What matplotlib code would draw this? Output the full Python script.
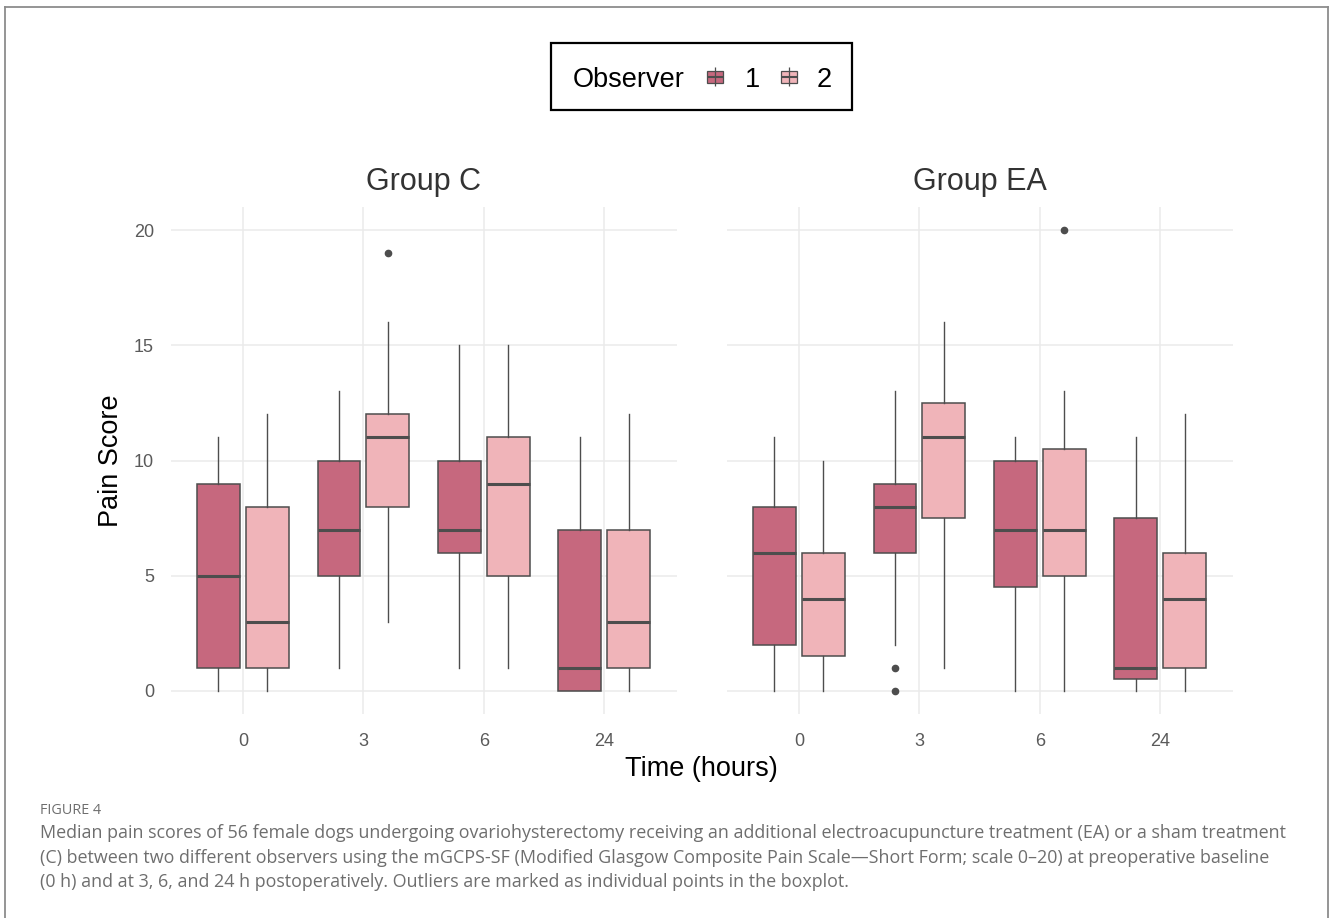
import matplotlib
matplotlib.use("Agg")
import matplotlib.pyplot as plt
from matplotlib.patches import Rectangle
from matplotlib.lines import Line2D
import numpy as np

plt.rcParams['font.family'] = ['Liberation Sans', 'DejaVu Sans']

# ---------------- data ----------------
times = ['0', '3', '6', '24']
groups = ['Group C', 'Group EA']
observers = ['1', '2']

# Group C, observer 1
c1_whislo = [0, 1, 1, 0]
c1_q1 = [1, 5, 6, 0]
c1_med = [5, 7, 7, 1]
c1_q3 = [9, 10, 10, 7]
c1_whishi = [11, 13, 15, 11]
c1_fliers = [[], [], [], []]
# Group C, observer 2
c2_whislo = [0, 3, 1, 0]
c2_q1 = [1, 8, 5, 1]
c2_med = [3, 11, 9, 3]
c2_q3 = [8, 12, 11, 7]
c2_whishi = [12, 16, 15, 12]
c2_fliers = [[], [19], [], []]
# Group EA, observer 1
e1_whislo = [0, 2, 0, 0]
e1_q1 = [2, 6, 4.5, 0.5]
e1_med = [6, 8, 7, 1]
e1_q3 = [8, 9, 10, 7.5]
e1_whishi = [11, 13, 11, 11]
e1_fliers = [[], [0, 1], [], []]
# Group EA, observer 2
e2_whislo = [0, 1, 0, 0]
e2_q1 = [1.5, 7.5, 5, 1]
e2_med = [4, 11, 7, 4]
e2_q3 = [6, 12.5, 10.5, 6]
e2_whishi = [10, 16, 13, 12]
e2_fliers = [[], [], [20], []]

yticks = [0, 5, 10, 15, 20]

caption_head = "FIGURE 4"
caption_lines = [
    "Median pain scores of 56 female dogs undergoing ovariohysterectomy receiving an additional electroacupuncture treatment (EA) or a sham treatment",
    "(C) between two different observers using the mGCPS-SF (Modified Glasgow Composite Pain Scale\u2014Short Form; scale 0\u201320) at preoperative baseline",
    "(0 h) and at 3, 6, and 24 h postoperatively. Outliers are marked as individual points in the boxplot.",
]

fill_colors = ['#C6687E', '#F0B4B9']
edge_col = '#4D4D4D'


def make_stats(whislo, q1, med, q3, whishi, fliers):
    out = []
    for i in range(len(med)):
        out.append(dict(whislo=whislo[i], q1=q1[i], med=med[i], q3=q3[i],
                        whishi=whishi[i], fliers=np.array(fliers[i], dtype=float)))
    return out


panel_data = {
    'Group C': [make_stats(c1_whislo, c1_q1, c1_med, c1_q3, c1_whishi, c1_fliers),
                make_stats(c2_whislo, c2_q1, c2_med, c2_q3, c2_whishi, c2_fliers)],
    'Group EA': [make_stats(e1_whislo, e1_q1, e1_med, e1_q3, e1_whishi, e1_fliers),
                 make_stats(e2_whislo, e2_q1, e2_med, e2_q3, e2_whishi, e2_fliers)],
}

W, H = 1330, 918
fig = plt.figure(figsize=(W / 100, H / 100), dpi=100)
fig.patch.set_facecolor('white')


def fx(px):
    return px / W


def fy(py):
    return 1 - py / H


panel_left = [170.6, 726.6]
panel_w = 506.0
panel_top, panel_bot = 207.0, 714.0

offset = 0.2025
bw = 0.356

axes = []
for gi, g in enumerate(groups):
    ax = fig.add_axes([fx(panel_left[gi]), fy(panel_bot), panel_w / W, (panel_bot - panel_top) / H])
    axes.append(ax)
    pos = np.arange(len(times))
    for oi in range(2):
        stats = panel_data[g][oi]
        p = pos + (-offset if oi == 0 else offset)
        ax.bxp(stats, positions=p, widths=bw, patch_artist=True, showcaps=False,
               boxprops=dict(facecolor=fill_colors[oi], edgecolor=edge_col, linewidth=1.1),
               medianprops=dict(color=edge_col, linewidth=2.2, solid_capstyle='butt'),
               whiskerprops=dict(color=edge_col, linewidth=1.0),
               flierprops=dict(marker='o', markerfacecolor=edge_col, markeredgecolor=edge_col,
                               markersize=4.5, linestyle='none'),
               manage_ticks=False, zorder=3)
    ax.set_xlim(-0.6, len(times) - 0.4)
    ax.set_ylim(-1, 21)
    ax.set_xticks(pos)
    ax.set_xticklabels(times)
    ax.set_yticks(yticks)
    ax.set_yticklabels([str(v) for v in yticks] if gi == 0 else [])
    ax.grid(True, color='#EBEBEB', linewidth=1.1, zorder=0)
    ax.set_axisbelow(True)
    for s in ax.spines.values():
        s.set_visible(False)
    ax.tick_params(length=0, labelsize=13, labelcolor='#5A5A5A', pad=14)
    ax.tick_params(axis='y', pad=12)
    ax.set_title(g, fontsize=22, color='#333333', pad=12)

fig.text(fx(111), fy(461), 'Pain Score', fontsize=19.5, color='black', ha='center', va='center',
         rotation=90)
fig.text(fx(701.3), fy(769), 'Time (hours)', fontsize=19.5, color='black', ha='center', va='center')

# ---------------- legend (manual, ggplot-like) ----------------
lx0, ly0, lx1, ly1 = 551, 43, 852, 110
lax = fig.add_axes([fx(lx0), fy(ly1), (lx1 - lx0) / W, (ly1 - ly0) / H])
lax.set_xlim(0, lx1 - lx0)
lax.set_ylim(ly1 - ly0, 0)
lax.axis('off')
lax.add_patch(Rectangle((0, 0), lx1 - lx0, ly1 - ly0, facecolor='white', edgecolor='black',
                        linewidth=1.6, clip_on=False))
lax.text(22, 37, 'Observer', fontsize=19.5, ha='left', va='center', color='black')
key_x = [155.5, 229.5]
lab_x = [194, 266]
for i in range(2):
    kx = key_x[i]
    lax.plot([kx + 8.3, kx + 8.3], [24, 43], color=edge_col, lw=0.9, solid_capstyle='butt')
    lax.add_patch(Rectangle((kx, 27.7), 16.6, 12, facecolor=fill_colors[i], edgecolor=edge_col, lw=0.9))
    lax.plot([kx, kx + 16.6], [33.7, 33.7], color=edge_col, lw=1.5, solid_capstyle='butt')
    lax.text(lab_x[i], 37, observers[i], fontsize=19.5, ha='left', va='center', color='black')

# ---------------- frame ----------------
frame_col = '#8C8C8C'
fig.add_artist(Line2D([fx(5), fx(5)], [0, fy(7)], color=frame_col, lw=1.3))
fig.add_artist(Line2D([fx(5), fx(1328)], [fy(7), fy(7)], color=frame_col, lw=1.3))
fig.add_artist(Line2D([fx(1328), fx(1328)], [0, fy(7)], color=frame_col, lw=1.3))

# ---------------- caption ----------------
cap_font = ['Open Sans', 'DejaVu Sans']
fig.text(fx(40), fy(810), caption_head, fontsize=10.4, color='#6E6E6E', family=cap_font,
         ha='left', va='center')
cap_y = [833, 858, 882]
texts = []
for yy, line in zip(cap_y, caption_lines):
    texts.append(fig.text(fx(40), fy(yy), line, fontsize=12.5, color='#6E6E6E',
                          family=cap_font, ha='left', va='center'))
# fit the first caption line to its width in the reference
fig.canvas.draw()
r = fig.canvas.get_renderer()
w0 = texts[0].get_window_extent(r).width
scale = (1294 - 40) / w0
for t in texts:
    t.set_fontsize(12.5 * scale)

fig.savefig('out.png', dpi=100, facecolor='white')
